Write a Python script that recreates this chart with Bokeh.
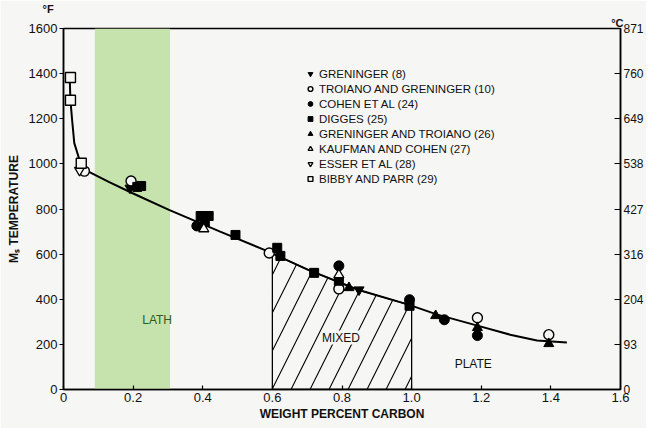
import numpy as np
from bokeh.plotting import figure
from bokeh.models import (Range1d, LinearAxis, FixedTicker, Legend, LegendItem, Label, Title)
from bokeh.embed import file_html
from bokeh.resources import INLINE

# ---- data ----
x_ticks = [0, 0.2, 0.4, 0.6, 0.8, 1.0, 1.2, 1.4, 1.6]
x_tick_labels = ["0", "0.2", "0.4", "0.6", "0.8", "1.0", "1.2", "1.4", "1.6"]
f_ticks = [0, 200, 400, 600, 800, 1000, 1200, 1400, 1600]
c_tick_labels = ["0", "93", "204", "316", "427", "538", "649", "760", "871"]

curve_c = [0.018, 0.02, 0.025, 0.031, 0.046, 0.069, 0.13, 0.197, 0.303, 0.45,
           0.577, 0.703, 0.846, 0.991, 1.074, 1.189, 1.283, 1.36, 1.446]
curve_t = [1370, 1280, 1190, 1092, 1017, 968, 920, 871, 796, 700,
           619, 530, 442, 376, 332, 283, 243, 217, 208]

lath_range = [0.09, 0.306]
mixed_range = [0.6, 1.0]

gren8_c = [0.191, 0.849]
gren8_t = [893, 442]
troiano_c = [0.06, 0.194, 0.591, 0.791, 1.189, 1.394]
troiano_t = [968, 924, 605, 446, 318, 243]
cohen_c = [0.383, 0.791, 0.994, 1.094, 1.189]
cohen_t = [725, 548, 398, 309, 239]
digges_c = [0.212, 0.223, 0.394, 0.406, 0.417, 0.494, 0.614, 0.623, 0.72, 0.791, 0.994]
digges_t = [898, 902, 769, 743, 769, 685, 628, 592, 517, 482, 371]
gt26_c = [0.82, 1.069, 1.189, 1.394]
gt26_t = [451, 327, 274, 203]
kaufman_c = [0.403, 0.791]
kaufman_t = [712, 508]
esser_c = [0.046]
esser_t = [972]
bibby_c = [0.02, 0.02, 0.051]
bibby_t = [1383, 1282, 1003]

BG = "#f6f6f4"
FONT = "Liberation Sans"

p = figure(width=646, height=428, x_range=Range1d(0, 1.6), y_range=Range1d(0, 1600),
           output_backend="svg", toolbar_location=None,
           min_border_left=63, min_border_right=23, min_border_top=0, min_border_bottom=39,
           background_fill_color=BG, border_fill_color=BG)
p.xgrid.visible = False
p.ygrid.visible = False
p.outline_line_color = "black"
p.outline_line_width = 1.5

# unit labels above the frame (first added sits closest to the frame)
p.add_layout(Title(text="°C", align="right", offset=-3, standoff=0,
                   text_font=FONT, text_font_size="11px", text_font_style="bold",
                   text_color="#111111"), "above")
p.add_layout(Title(text="°F", align="left", offset=-21, standoff=0,
                   text_font=FONT, text_font_size="11px", text_font_style="bold",
                   text_color="#111111"), "above")

# axes
xa = p.xaxis[0]
xa.ticker = FixedTicker(ticks=x_ticks)
xa.major_label_overrides = {t: l for t, l in zip(x_ticks, x_tick_labels)}
xa.axis_label = "WEIGHT PERCENT CARBON"
ya = p.yaxis[0]
ya.ticker = FixedTicker(ticks=f_ticks)
ya.axis_label = "Mₛ TEMPERATURE"

ra = LinearAxis(ticker=FixedTicker(ticks=f_ticks),
                major_label_overrides={t: l for t, l in zip(f_ticks, c_tick_labels)})
p.add_layout(ra, "right")

for ax in (xa, ya, ra):
    ax.axis_line_color = "black"
    ax.axis_line_width = 1.5
    ax.major_tick_line_color = "black"
    ax.major_tick_line_width = 1.2
    ax.minor_tick_line_color = None
    ax.major_label_text_font = FONT
    ax.major_label_text_font_size = "13px"
    ax.major_label_text_color = "#111111"
    ax.axis_label_text_font = FONT
    ax.axis_label_text_font_size = "12px"
    ax.axis_label_text_font_style = "bold"
    ax.axis_label_text_color = "#111111"
ra.major_label_text_font_size = "12px"
xa.major_tick_in = 4
xa.major_tick_out = 0
xa.major_label_standoff = 3
xa.axis_label_standoff = 2
ya.major_tick_in = 0
ya.major_tick_out = 4
ya.major_label_standoff = 2
ya.axis_label_standoff = 5
ra.major_tick_in = 6
ra.major_tick_out = 0
ra.major_label_standoff = 3

# lath band
p.quad(left=[lath_range[0]], right=[lath_range[1]], bottom=[0], top=[1600],
       fill_color="#c7e3ad", line_color=None)

# mixed hatched region under the curve
mx = [mixed_range[0]] + [c for c in curve_c if mixed_range[0] < c < mixed_range[1]] + [mixed_range[1]]
my = [float(np.interp(c, curve_c, curve_t)) for c in mx]
poly_x = [mixed_range[0]] + mx + [mixed_range[1]]
poly_y = [0] + my + [0]
p.patch(poly_x, poly_y, fill_alpha=0, line_color="black", line_width=1.3,
        hatch_pattern="/", hatch_color="black", hatch_scale=38, hatch_weight=1.1)

# curve
p.line(curve_c, curve_t, line_color="black", line_width=2)

S = 10
r_g8 = p.scatter(gren8_c, gren8_t, marker="inverted_triangle", size=S, fill_color="black", line_color="black")
r_tr = p.scatter(troiano_c, troiano_t, marker="circle", size=S, fill_color=BG, line_color="black", line_width=1.4)
r_co = p.scatter(cohen_c, cohen_t, marker="circle", size=S, fill_color="black", line_color="black")
r_di = p.scatter(digges_c, digges_t, marker="square", size=S - 1, fill_color="black", line_color="black")
r_gt = p.scatter(gt26_c, gt26_t, marker="triangle", size=S, fill_color="black", line_color="black")
r_ka = p.scatter(kaufman_c, kaufman_t, marker="triangle", size=S, fill_color=BG, line_color="black", line_width=1.3)
r_es = p.scatter(esser_c, esser_t, marker="inverted_triangle", size=S, fill_color=BG, line_color="black", line_width=1.3)
r_bi = p.scatter(bibby_c, bibby_t, marker="square", size=S, fill_color=BG, line_color="black", line_width=1.4)

legend = Legend(items=[
    LegendItem(label="GRENINGER (8)", renderers=[r_g8]),
    LegendItem(label="TROIANO AND GRENINGER (10)", renderers=[r_tr]),
    LegendItem(label="COHEN ET AL (24)", renderers=[r_co]),
    LegendItem(label="DIGGES (25)", renderers=[r_di]),
    LegendItem(label="GRENINGER AND TROIANO (26)", renderers=[r_gt]),
    LegendItem(label="KAUFMAN AND COHEN (27)", renderers=[r_ka]),
    LegendItem(label="ESSER ET AL (28)", renderers=[r_es]),
    LegendItem(label="BIBBY AND PARR (29)", renderers=[r_bi]),
], location=(241, 203), border_line_color=None, background_fill_alpha=0,
   padding=0, margin=0, spacing=0, label_height=15, glyph_height=15, glyph_width=12,
   label_standoff=3, label_text_font=FONT, label_text_font_size="11.5px",
   label_text_color="#111111")
p.add_layout(legend)

# region labels
p.add_layout(Label(x=0.269, y=309, text="LATH", text_align="center", text_baseline="middle",
                   text_font=FONT, text_font_size="12px", text_color="#2f5a22"))
p.add_layout(Label(x=0.797, y=230, text="MIXED", text_align="center", text_baseline="middle",
                   text_font=FONT, text_font_size="12px", text_color="#111111",
                   background_fill_color=BG))
p.add_layout(Label(x=1.177, y=111, text="PLATE", text_align="center", text_baseline="middle",
                   text_font=FONT, text_font_size="12px", text_color="#111111"))

open("out.html", "w").write(file_html(p, INLINE))
